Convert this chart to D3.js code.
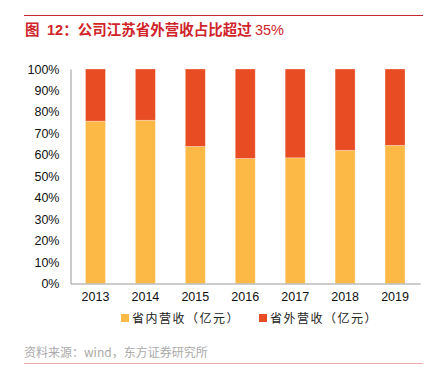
<!DOCTYPE html>
<html>
<head>
<meta charset="utf-8">
<script src="https://cdn.jsdelivr.net/npm/d3@7"></script>
<style>
  body { margin: 0; background: #fff; }
  svg { display: block; }
  text { font-family: "Liberation Sans", Arial, "Noto Sans CJK SC", sans-serif; }
  .cjk { font-family: "Noto Sans CJK SC", sans-serif; }
</style>
</head>
<body>
<svg id="chart" width="431" height="389"></svg>
<script>
  // data (share of revenue, %)
  var years = ["2013", "2014", "2015", "2016", "2017", "2018", "2019"];
  var inProvince = [75.7, 76.1, 63.9, 58.3, 58.6, 62.1, 64.4];
  var outProvince = years.map(function (d, i) { return 100 - inProvince[i]; });
  var yTicks = [0, 10, 20, 30, 40, 50, 60, 70, 80, 90, 100];
  var seriesNames = ["省内营收（亿元）", "省外营收（亿元）"];
  var colors = ["#FDB945", "#E84C22"];

  var svg = d3.select("#chart");

  // header line + title
  svg.append("line")
    .attr("x1", 24).attr("x2", 423).attr("y1", 15.5).attr("y2", 15.5)
    .attr("stroke", "#C8282C").attr("stroke-width", 1);
  var title = svg.append("text")
    .attr("x", 25).attr("y", 35)
    .attr("fill", "#D0242B")
    .attr("font-size", 14.5).attr("font-weight", "bold")
    .style("white-space", "pre");
  title.append("tspan").attr("class", "cjk").text("图");
  title.append("tspan").attr("x", 47).text("12");
  title.append("tspan").attr("class", "cjk").text("：公司江苏省外营收占比超过 ");
  title.append("tspan").attr("font-weight", "normal").text("35%");

  var x = d3.scaleBand().domain(years).range([70.5, 420]).paddingInner(0.6).paddingOuter(0.3);
  var y = d3.scaleLinear().domain([0, 100]).range([283.5, 69]);

  var table = years.map(function (yr, i) {
    return { year: yr, a: inProvince[i], b: outProvince[i] };
  });
  var stack = d3.stack().keys(["a", "b"])(table);

  svg.append("g").selectAll("g")
    .data(stack)
    .enter().append("g")
      .attr("fill", function (d, i) { return colors[i]; })
    .selectAll("rect")
    .data(function (d) { return d; })
    .enter().append("rect")
      .attr("x", function (d) { return x(d.data.year); })
      .attr("width", x.bandwidth())
      .attr("y", function (d) { return y(d[1]); })
      .attr("height", function (d) { return y(d[0]) - y(d[1]); })
      .attr("stroke", "rgba(255,255,255,0.35)")
      .attr("stroke-width", 0.8);

  // y axis
  var yAxis = svg.append("g")
    .attr("transform", "translate(70.5,0)")
    .call(d3.axisLeft(y).tickValues(yTicks).tickSize(0).tickPadding(11)
      .tickFormat(function (d) { return d + "%"; }));
  yAxis.select(".domain").attr("stroke", "#999");
  yAxis.selectAll("text").attr("font-size", 12.5).attr("fill", "#111")
    .style("font-family", "'Liberation Sans', Arial, sans-serif");

  // x axis
  var xAxis = svg.append("g")
    .attr("transform", "translate(0,283.5)")
    .call(d3.axisBottom(x).tickSize(0).tickPadding(9));
  xAxis.select(".domain").attr("stroke", "#999");
  xAxis.selectAll("text").attr("font-size", 12.5).attr("fill", "#111")
    .style("font-family", "'Liberation Sans', Arial, sans-serif");

  // legend
  var legendX = [121, 259];
  var legend = svg.append("g").selectAll("g")
    .data(seriesNames)
    .enter().append("g")
      .attr("transform", function (d, i) { return "translate(" + legendX[i] + ",318)"; });
  legend.append("rect")
    .attr("x", 0).attr("y", -4).attr("width", 8).attr("height", 8)
    .attr("fill", function (d, i) { return colors[i]; });
  legend.append("text")
    .attr("class", "cjk")
    .attr("x", 11).attr("y", 4.5)
    .attr("font-size", 12).attr("fill", "#222")
    .attr("letter-spacing", 1.5)
    .text(function (d) { return d; });

  // source
  svg.append("text")
    .attr("class", "cjk")
    .attr("x", 24).attr("y", 357)
    .attr("font-size", 12).attr("fill", "#aaa")
    .text("资料来源：wind，东方证券研究所");
  svg.append("line")
    .attr("x1", 24).attr("x2", 423).attr("y1", 363.5).attr("y2", 363.5)
    .attr("stroke", "#EFA9A6").attr("stroke-width", 1.2);
</script>
</body>
</html>
